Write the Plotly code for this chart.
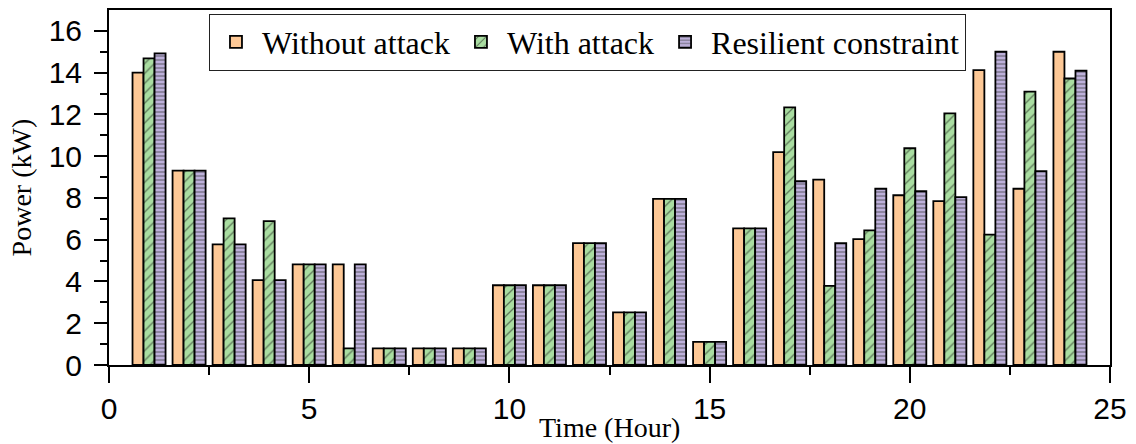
import plotly.graph_objects as go

hours = list(range(1, 25))
without_attack = [14.0, 9.31, 5.78, 4.06, 4.82, 4.82, 0.80, 0.80, 0.80, 3.82, 3.82, 5.84,
                  2.52, 7.96, 1.11, 6.54, 10.19, 8.88, 6.03, 8.13, 7.85, 14.12, 8.44, 15.0]
with_attack = [14.68, 9.31, 7.02, 6.89, 4.82, 0.80, 0.80, 0.80, 0.80, 3.82, 3.82, 5.84,
               2.52, 7.96, 1.11, 6.54, 12.34, 3.79, 6.45, 10.38, 12.05, 6.24, 13.09, 13.72]
resilient = [14.92, 9.31, 5.78, 4.06, 4.82, 4.82, 0.80, 0.80, 0.80, 3.82, 3.82, 5.84,
             2.52, 7.96, 1.11, 6.54, 8.80, 5.84, 8.44, 8.32, 8.04, 15.0, 9.28, 14.09]

names = ["Without attack", "With attack", "Resilient constraint"]
colors = ["#FDC896", "#A9DDA1", "#BDB0DA"]
patterns = [
    dict(shape=""),
    dict(shape="/", fgcolor="#111111", size=7, solidity=0.18),
    dict(shape="-", fgcolor="#333333", size=4, solidity=0.35),
]

fig = go.Figure()
for name, vals, col, pat in zip(names, [without_attack, with_attack, resilient], colors, patterns):
    fig.add_trace(go.Bar(
        x=hours, y=vals, name=name,
        marker=dict(color=col, line=dict(color="black", width=1.8), pattern=pat),
    ))

serif = "Liberation Serif, Times New Roman, serif"
sans = "Liberation Sans, Arial, sans-serif"

fig.update_layout(
    width=1136, height=444,
    margin=dict(l=109, r=26, t=10, b=79, autoexpand=False),
    plot_bgcolor="white", paper_bgcolor="white",
    barmode="group", bargap=0.175, bargroupgap=0,
    showlegend=True,
    legend=dict(
        orientation="h", x=0.478, y=0.99, xanchor="center", yanchor="top",
        font=dict(family=serif, size=32, color="black"),
        bordercolor="#222222", borderwidth=1, bgcolor="white",
        itemwidth=42, tracegroupgap=0,
    ),
    xaxis=dict(
        range=[0, 25], tickmode="array", tickvals=[0, 5, 10, 15, 20, 25],
        ticks="outside", ticklen=16, tickwidth=2, tickcolor="black",
        minor=dict(tickvals=[2.5, 7.5, 12.5, 17.5, 22.5], ticks="outside", ticklen=8, tickwidth=2, tickcolor="black"),
        showline=True, linecolor="black", linewidth=2, mirror=True,
        showgrid=False, zeroline=False,
        tickfont=dict(family=sans, size=30, color="black"),
    ),
    yaxis=dict(
        range=[0, 17], tickmode="array", tickvals=[0, 2, 4, 6, 8, 10, 12, 14, 16],
        ticks="outside", ticklen=13, tickwidth=2, tickcolor="black",
        minor=dict(tickvals=[1, 3, 5, 7, 9, 11, 13, 15], ticks="outside", ticklen=7, tickwidth=2, tickcolor="black"),
        showline=True, linecolor="black", linewidth=2, mirror=True,
        showgrid=False, zeroline=False, ticklabelstandoff=6,
        tickfont=dict(family=sans, size=30, color="black"),
    ),
    annotations=[
        dict(text="Time (Hour)", xref="paper", yref="paper", x=0.5, y=-0.175,
             xanchor="center", yanchor="middle", showarrow=False,
             font=dict(family=serif, size=28, color="black")),
        dict(text="Power (kW)", xref="paper", yref="paper", x=-0.087, y=0.5,
             xanchor="center", yanchor="middle", textangle=-90, showarrow=False,
             font=dict(family=serif, size=28, color="black")),
    ],
)

fig.write_html("out.html", config={"displayModeBar": False},
               post_script="document.body.style.margin='0';document.body.style.padding='0';")
